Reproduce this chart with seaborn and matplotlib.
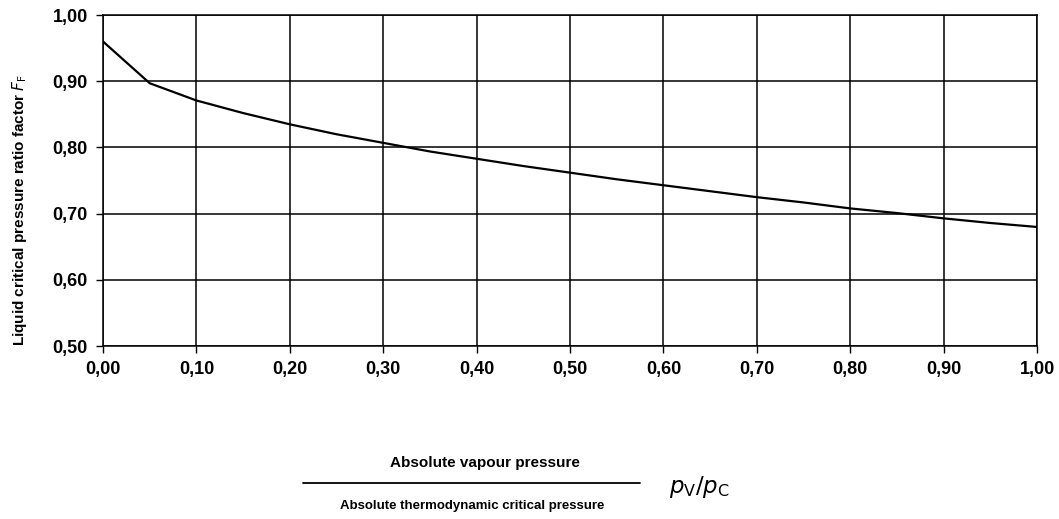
import numpy as np
import pandas as pd
import matplotlib
matplotlib.use("Agg")
import matplotlib.pyplot as plt
import seaborn as sns

# values
pv_pc = [0.00, 0.05, 0.10, 0.15, 0.20, 0.25, 0.30, 0.35, 0.40, 0.45, 0.50,
         0.55, 0.60, 0.65, 0.70, 0.75, 0.80, 0.85, 0.90, 0.95, 1.00]
ff = [0.960, 0.897, 0.871, 0.852, 0.835, 0.820, 0.807, 0.794, 0.783, 0.772, 0.762,
      0.752, 0.743, 0.734, 0.725, 0.717, 0.708, 0.701, 0.693, 0.686, 0.680]
x_ticks = [0.0, 0.1, 0.2, 0.3, 0.4, 0.5, 0.6, 0.7, 0.8, 0.9, 1.0]
y_ticks = [0.5, 0.6, 0.7, 0.8, 0.9, 1.0]

df = pd.DataFrame({'pv_pc': pv_pc, 'FF': ff})

sns.set_style("white")
plt.rcParams['font.family'] = ['Liberation Sans', 'DejaVu Sans']
plt.rcParams['text.color'] = 'black'
plt.rcParams['xtick.color'] = 'black'
plt.rcParams['ytick.color'] = 'black'
plt.rcParams['axes.labelcolor'] = 'black'

fig = plt.figure(figsize=(10.59, 5.19), dpi=100)
ax = fig.add_axes([0.0973, 0.333, 0.882, 0.638])

sns.lineplot(data=df, x='pv_pc', y='FF', color='black', linewidth=1.6, ax=ax)

ax.set_xlim(0, 1)
ax.set_ylim(0.5, 1.0)
ax.set_xticks(x_ticks)
ax.set_yticks(y_ticks)
ax.set_xticklabels([f"{v:.2f}".replace('.', ',') for v in x_ticks], fontsize=13, fontweight='bold')
ax.set_yticklabels([f"{v:.2f}".replace('.', ',') for v in y_ticks], fontsize=13, fontweight='bold')
ax.tick_params(axis='both', direction='out', length=5, width=1, pad=6,
               bottom=True, left=True)
ax.grid(True, color='black', linewidth=1.1)
for s in ax.spines.values():
    s.set_color('black')
    s.set_linewidth(1.1)
ax.set_xlabel('')
ax.set_ylabel(r'Liquid critical pressure ratio factor $F_\mathrm{F}$', fontsize=11,
              fontweight='bold')
ax.yaxis.set_label_coords(-0.079, 0.41)

# fraction-style x label
fig.text(0.458, 0.108, 'Absolute vapour pressure', ha='center', va='center',
         fontsize=11, fontweight='bold')
fig.add_artist(plt.Line2D([0.286, 0.604], [0.069, 0.069], color='black', linewidth=1.3))
fig.text(0.446, 0.026, 'Absolute thermodynamic critical pressure', ha='center', va='center',
         fontsize=9.5, fontweight='bold')
fig.text(0.632, 0.062, r'$p_\mathrm{V}/p_\mathrm{C}$', ha='left', va='center', fontsize=16.5)

fig.savefig('out.png', dpi=100)
